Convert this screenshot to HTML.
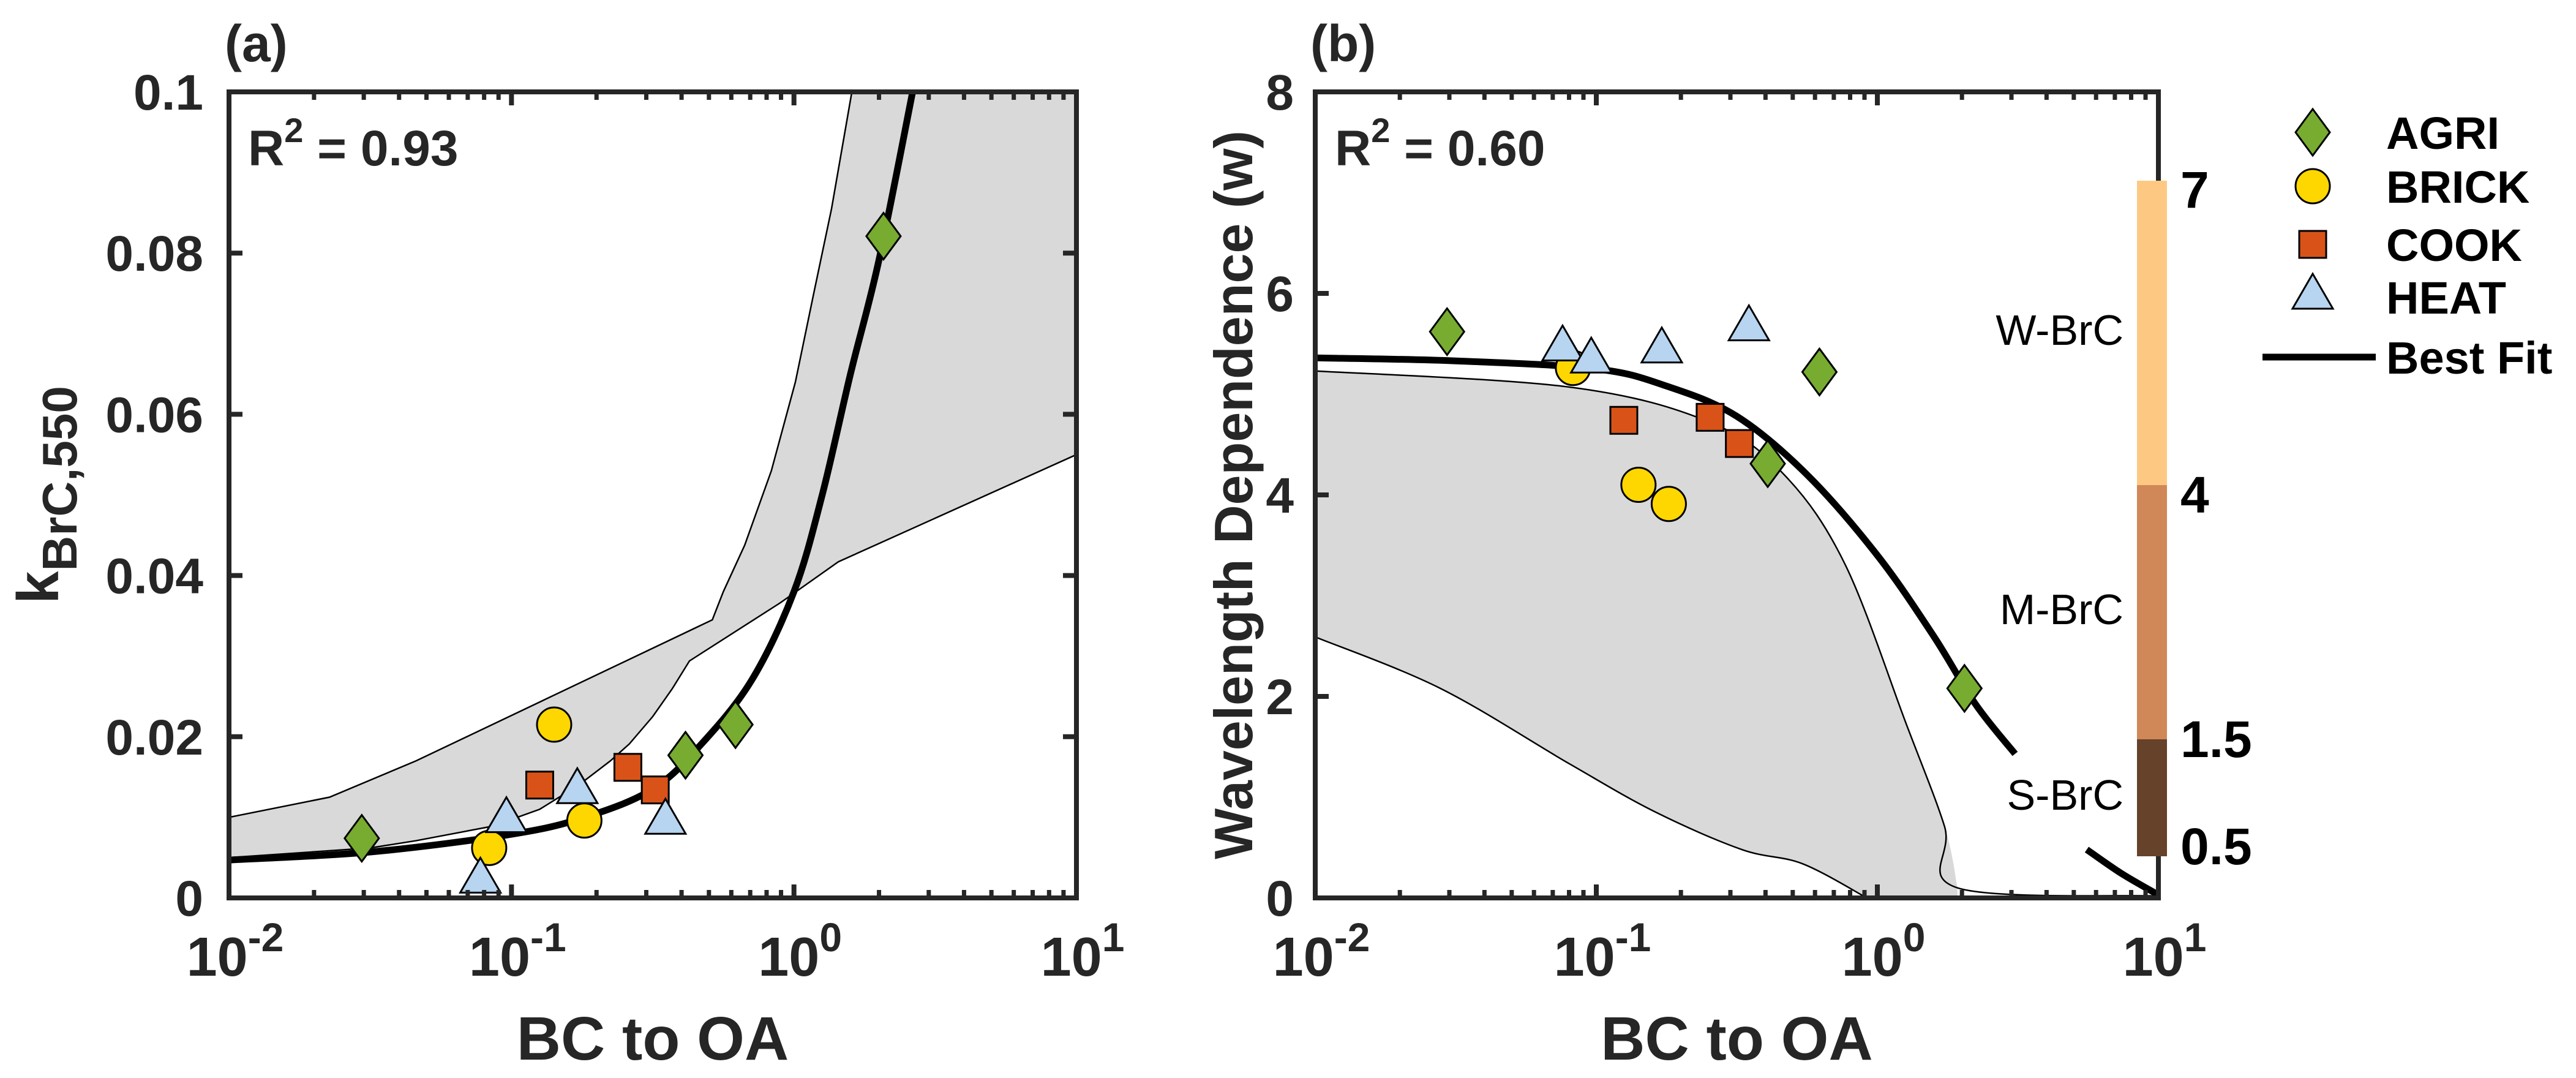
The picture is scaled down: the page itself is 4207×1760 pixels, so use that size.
<!DOCTYPE html>
<html><head><meta charset="utf-8"><style>
html,body{margin:0;padding:0;background:#fff;}
svg{display:block;}
text{font-family:"Liberation Sans Narrow","Liberation Sans",sans-serif;font-weight:bold;fill:#262626;}
.reg{font-family:"Liberation Sans",sans-serif;font-weight:normal;fill:#000;}
.lg{font-family:"Liberation Sans",sans-serif;font-weight:bold;fill:#000;}
</style></head><body>
<svg id="fig" width="4207" height="1760" viewBox="0 0 4207 1760" xmlns="http://www.w3.org/2000/svg"></svg>
<script>
// ---------- data (x values are log10 of BC/OA) ----------
const agriA_x=[-1.53,0.317,-0.384,-0.207];
const agriA_y=[0.0074,0.0821,0.0177,0.0215];
const brickA_x=[-1.079,-0.849,-0.742];
const brickA_y=[0.0062,0.0215,0.0096];
const cookA_x=[-0.90,-0.588,-0.491];
const cookA_y=[0.0140,0.0162,0.0134];
const heatA_x=[-1.11,-1.018,-0.767,-0.455];
const heatA_y=[0.0021,0.0096,0.0132,0.0094];
const fitA_x=[-2,-1.5,-1,-0.74,-0.5,-0.33,-0.15,0,0.1,0.2,0.3,0.42];
const fitA_y=[0.0047,0.0057,0.0079,0.010,0.0135,0.019,0.027,0.038,0.050,0.065,0.079,0.100];
const bandA_up_x=[-2,-1.644,-1.338,-0.289,-0.25,-0.174,-0.08,0.005,0.07,0.133,0.205,1];
const bandA_up_y=[0.0100,0.0125,0.017,0.0345,0.038,0.0438,0.053,0.064,0.075,0.0855,0.100,0.100];
const bandA_lo_x=[-2,-1.5,-1.338,-1.067,-0.9,-0.762,-0.65,-0.583,-0.5,-0.43,-0.37,-0.049,0.157,1];
const bandA_lo_y=[0.0050,0.0062,0.0071,0.0089,0.011,0.014,0.017,0.0191,0.0225,0.026,0.0294,0.0366,0.0417,0.055];

const agriB_x=[-1.531,-0.206,-0.39,0.31];
const agriB_y=[5.62,5.22,4.31,2.08];
const brickB_x=[-1.083,-0.85,-0.742];
const brickB_y=[5.26,4.10,3.91];
const cookB_x=[-0.902,-0.595,-0.491];
const cookB_y=[4.74,4.77,4.51];
const heatB_x=[-1.12,-1.018,-0.767,-0.457];
const heatB_y=[5.45,5.33,5.43,5.65];
const fitB1_x=[-2,-1.5,-1,-0.75,-0.5,-0.25,0,0.2,0.35,0.49];
const fitB1_y=[5.36,5.33,5.25,5.08,4.78,4.2,3.4,2.6,1.92,1.43];
const fitB2_x=[0.745,0.87,1];
const fitB2_y=[0.48,0.24,0.03];
const bandB_up_x=[-2,-1.095,-0.595,-0.328,-0.113,0.101,0.239,0.285,1];
const bandB_up_y=[5.23,5.07,4.72,4.19,3.30,1.74,0.71,0.10,0.02];
const bandB_lo_x=[-2,-1.555,-1.095,-0.788,-0.482,-0.267,-0.037];
const bandB_lo_y=[2.59,2.08,1.33,0.85,0.48,0.34,0.0];

const yTicksA=[0,0.02,0.04,0.06,0.08,0.1];
const yTickLabelsA=["0","0.02","0.04","0.06","0.08","0.1"];
const yTicksB=[0,2,4,6,8];
const yTickLabelsB=["0","2","4","6","8"];
const xDecades=[-2,-1,0,1];
const xTickExp=["-2","-1","0","1"];
const cbValues=[7,4,1.5,0.5];
const cbLabels=["7","4","1.5","0.5"];
const cbClasses=["W-BrC","M-BrC","S-BrC"];

const NS="http://www.w3.org/2000/svg";
const svg=document.getElementById('fig');
function el(tag,attrs,parent){const e=document.createElementNS(NS,tag);for(const k in attrs)e.setAttribute(k,attrs[k]);(parent||svg).appendChild(e);return e;}

const colors={agri:"#77AC30",brick:"#FFD700",cook:"#D95319",heat:"#B7D4F0"};

function makeAxes(L,R,T,B,ymin,ymax){
  return {L,R,T,B,
    sx:v=>L+(v-(-2))/3*(R-L),
    sy:v=>B-(v-ymin)/(ymax-ymin)*(B-T)};
}
function smoothPath(pts){
  let d="M"+pts[0][0]+","+pts[0][1];
  for(let i=0;i<pts.length-1;i++){
    const p0=pts[Math.max(0,i-1)],p1=pts[i],p2=pts[i+1],p3=pts[Math.min(pts.length-1,i+2)];
    const c1x=p1[0]+(p2[0]-p0[0])/6,c1y=p1[1]+(p2[1]-p0[1])/6;
    const c2x=p2[0]-(p3[0]-p1[0])/6,c2y=p2[1]-(p3[1]-p1[1])/6;
    d+=" C"+c1x+","+c1y+" "+c2x+","+c2y+" "+p2[0]+","+p2[1];
  }
  return d;
}
function linePath(pts){return "M"+pts.map(p=>p[0]+","+p[1]).join(" L");}
function pts(ax,xs,ys){return xs.map((x,i)=>[ax.sx(x),ax.sy(ys[i])]);}

function marker(g,type,cx,cy){
  let m;
  if(type==="agri") m=el('polygon',{points:`${cx},${cy-38} ${cx+28},${cy} ${cx},${cy+38} ${cx-28},${cy}`,fill:colors.agri,stroke:"#000","stroke-width":3},g);
  else if(type==="brick") m=el('circle',{cx,cy,r:28,fill:colors.brick,stroke:"#000","stroke-width":3},g);
  else if(type==="cook") m=el('rect',{x:cx-22,y:cy-22,width:44,height:44,fill:colors.cook,stroke:"#000","stroke-width":3},g);
  else m=el('polygon',{points:`${cx},${cy-38} ${cx+33},${cy+19} ${cx-33},${cy+19}`,fill:colors.heat,stroke:"#000","stroke-width":3},g);
  return m;
}

function drawFrame(ax,name,yt,ytl,ylabel,ylabelX,isB){
  const g=el('g',{});
  
  
  xDecades.forEach((d,i)=>{
    const x=ax.sx(d);
    el('line',{x1:x,y1:ax.B,x2:x,y2:ax.B-22,stroke:"#262626","stroke-width":8},g);
    el('line',{x1:x,y1:ax.T,x2:x,y2:ax.T+22,stroke:"#262626","stroke-width":8},g);
    const t=el('text',{x:x+10,y:1593,"font-size":90,"text-anchor":"middle"},g);
    
    
    t.textContent="10";
    const s=el('tspan',{dy:-40,"font-size":66},t);s.textContent=xTickExp[i];
    if(i<3){for(let k=2;k<10;k++){const xm=ax.sx(d+Math.log10(k));
      el('line',{x1:xm,y1:ax.B,x2:xm,y2:ax.B-13,stroke:"#262626","stroke-width":7},g);
      el('line',{x1:xm,y1:ax.T,x2:xm,y2:ax.T+13,stroke:"#262626","stroke-width":7},g);}}
  });
  yt.forEach((v,i)=>{
    const y=ax.sy(v);
    el('line',{x1:ax.L,y1:y,x2:ax.L+22,y2:y,stroke:"#262626","stroke-width":8},g);
    if(!isB) el('line',{x1:ax.R,y1:y,x2:ax.R-22,y2:y,stroke:"#262626","stroke-width":8},g);
    const t=el('text',{x:ax.L-(isB?35:42),y:y+29,"font-size":82,"text-anchor":"end"},g);
    
    
    t.textContent=ytl[i];
  });
  el('rect',{x:ax.L,y:ax.T,width:ax.R-ax.L,height:ax.B-ax.T,fill:"none",stroke:"#262626","stroke-width":8},g);
  const xt=el('text',{x:(ax.L+ax.R)/2,y:1730,"font-size":100,"text-anchor":"middle"},g);
  
  
  xt.textContent="BC to OA";
  const cy=(ax.T+ax.B)/2;
  const yl=el('text',{x:ylabelX,y:cy,"font-size":isB?88:96,"text-anchor":"middle",transform:`rotate(-90 ${ylabelX} ${cy})`},g);
  
  
  if(isB){yl.textContent=ylabel;}
  else{yl.textContent="k";const s=el('tspan',{dy:30,"font-size":80},yl);s.textContent="BrC,550";}
}

function drawPanel(ax,name,data){
  const g=el('g',{});
  
  
  const cp=el('clipPath',{id:name+'clip'},g);
  el('rect',{x:ax.L,y:ax.T,width:ax.R-ax.L,height:ax.B-ax.T},cp);
  const inner=el('g',{'clip-path':`url(#${name}clip)`},g);
  const up=pts(ax,data.upx,data.upy), lo=pts(ax,data.lox,data.loy);
  let d, upD, loD;
  if(data.isB){
    const base=[[ax.sx(data.upx[data.upx.length-2]),ax.B+10],[ax.sx(data.lox[data.lox.length-1]),ax.B+10]];
    d=smoothPath(up.slice(0,up.length-1))+" L"+base[0][0]+","+base[0][1]+" L"+base[1][0]+","+base[1][1]+" "+smoothPath(lo.slice().reverse()).replace("M","L")+" Z";
    upD=smoothPath(up); loD=smoothPath(lo);
  } else {
    d=linePath(up)+" "+linePath(lo.slice().reverse()).replace("M","L")+" Z";
    upD=linePath(up); loD=linePath(lo);
  }
  const band=el('path',{d,fill:"#D9D9D9",stroke:"none"},inner);
  
  
  el('path',{d:upD,fill:"none",stroke:"#000","stroke-width":2.5},inner);
  el('path',{d:loD,fill:"none",stroke:"#000","stroke-width":2.5},inner);
  data.fits.forEach(f=>{
    const p=el('path',{d:smoothPath(pts(ax,f[0],f[1])),fill:"none",stroke:"#000","stroke-width":11},inner);
    
    
  });
  const mg=el('g',{},g);
  data.series.forEach(s=>{
    s.x.forEach((x,i)=>{
      const m=marker(mg,s.type,ax.sx(x),ax.sy(s.y[i]));
      
      
    });
  });
}

const axA=makeAxes(374,1758,150,1466,0,0.1);
const axB=makeAxes(2148,3525,150,1466,0,8);

drawPanel(axA,'panel-a',{isB:false,upx:bandA_up_x,upy:bandA_up_y,lox:bandA_lo_x,loy:bandA_lo_y,
  fits:[[fitA_x,fitA_y]],
  series:[{type:"agri",x:agriA_x,y:agriA_y},{type:"brick",x:brickA_x,y:brickA_y},{type:"cook",x:cookA_x,y:cookA_y},{type:"heat",x:heatA_x,y:heatA_y}]});
drawPanel(axB,'panel-b',{isB:true,upx:bandB_up_x,upy:bandB_up_y,lox:bandB_lo_x,loy:bandB_lo_y,
  fits:[[fitB1_x,fitB1_y],[fitB2_x,fitB2_y]],
  series:[{type:"agri",x:agriB_x,y:agriB_y},{type:"brick",x:brickB_x,y:brickB_y},{type:"cook",x:cookB_x,y:cookB_y},{type:"heat",x:heatB_x,y:heatB_y}]});

drawFrame(axA,'panel-a',yTicksA,yTickLabelsA,"",95,false);
drawFrame(axB,'panel-b',yTicksB,yTickLabelsB,"Wavelength Dependence (w)",2045,true);

[["(a)",367,"panel-a-label"],["(b)",2140,"panel-b-label"]].forEach(a=>{
  const t=el('text',{x:a[1],y:100,"font-size":84});
  
  
  t.textContent=a[0];
});
[["0.93",405,"r-squared-a"],["0.60",2180,"r-squared-b"]].forEach(a=>{
  const t=el('text',{x:a[1],y:270,"font-size":82,fill:"#000"});
  
  
  t.textContent="R";
  const s=el('tspan',{dy:-38,"font-size":56},t);s.textContent="2";
  const s2=el('tspan',{dy:38},t);s2.textContent=" = "+a[0];
});

const cbPix=[295,792,1207,1398];
const cbCols=["#FDC982","#D08858","#66422A"];
const cbg=el('g',{});


for(let i=0;i<3;i++){
  el('rect',{x:3490,y:cbPix[i],width:49,height:cbPix[i+1]-cbPix[i],fill:cbCols[i]},cbg);
  const ct=el('text',{x:3468,y:[563,1019,1322][i],"font-size":70,"text-anchor":"end",class:"reg"},cbg);
  
  
  ct.textContent=cbClasses[i];
}
cbValues.forEach((v,i)=>{
  const t=el('text',{x:3561,y:[309,807,1206,1381][i]+30,"font-size":84,class:"lg"},cbg);
  
  
  t.textContent=cbLabels[i];
});

const lg=el('g',{});


const legItems=[["agri","AGRI",216],["brick","BRICK",304],["cook","COOK",399],["heat","HEAT",485]];
legItems.forEach(it=>{
  const m=marker(lg,it[0],3777,it[2]);
  
  
  const t=el('text',{x:3897,y:it[2]+27,"font-size":74,class:"lg"},lg);
  
  
  t.textContent=it[1];
});
el('line',{x1:3695,y1:583,x2:3880,y2:583,stroke:"#000","stroke-width":11},lg);
const bt=el('text',{x:3897,y:610,"font-size":74,class:"lg"},lg);


bt.textContent="Best Fit";
</script>
</body></html>
